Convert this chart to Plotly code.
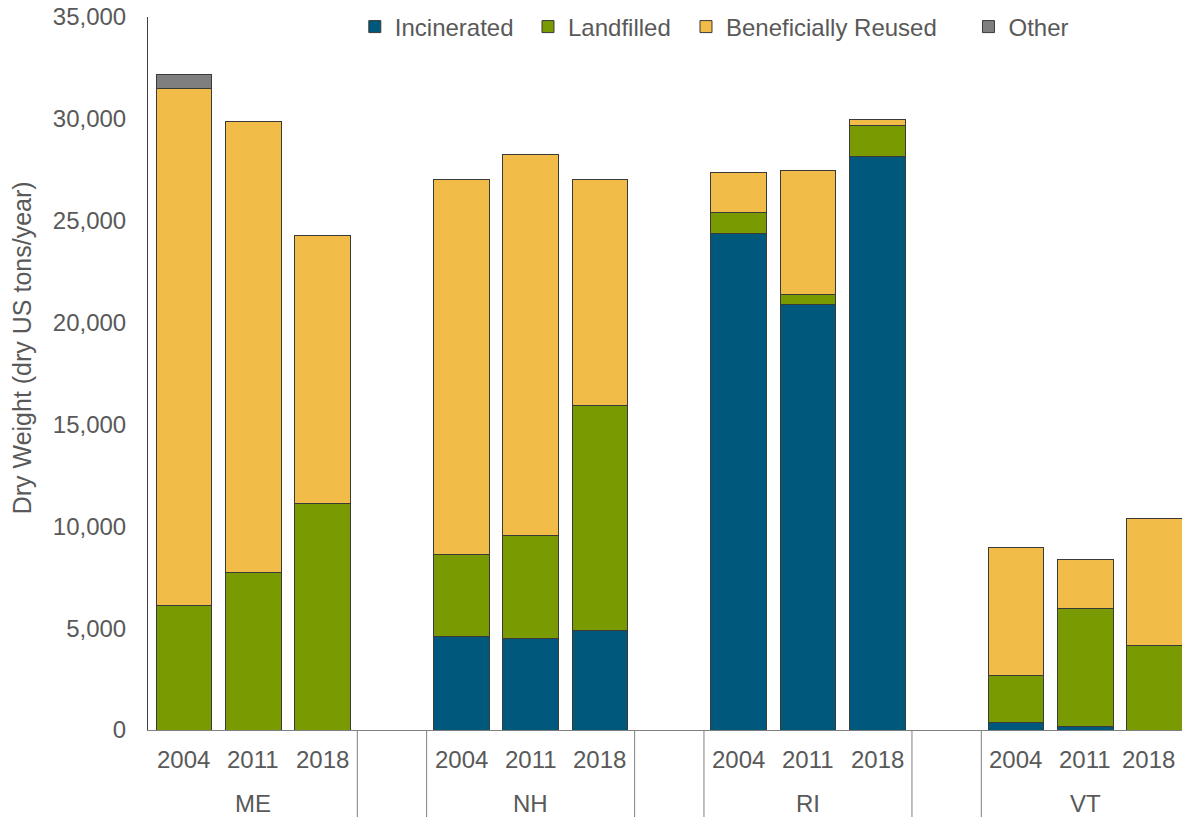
import plotly.graph_objects as go

states = ["ME", "NH", "RI", "VT"]
years = ["2004", "2011", "2018"]

incinerated = {"ME": [0, 0, 0], "NH": [4580, 4500, 4860], "RI": [24350, 20880, 28170], "VT": [360, 160, 0]}
landfilled = {"ME": [6120, 7740, 11100], "NH": [4050, 5070, 11050], "RI": [1070, 520, 1480], "VT": [2320, 5810, 4140]}
reused = {"ME": [25350, 22120, 13170], "NH": [18370, 18680, 11100], "RI": [1960, 6070, 300], "VT": [6270, 2410, 6230]}
other = {"ME": [690, 0, 0], "NH": [0, 0, 0], "RI": [0, 0, 0], "VT": [0, 0, 0]}

series = [
    ("Incinerated", incinerated, "#00587C", "legend", 0.2),
    ("Landfilled", landfilled, "#7A9A01", "legend2", 0.3675),
    ("Beneficially Reused", reused, "#F1BC47", "legend3", 0.5203),
    ("Other", other, "#7F7F7F", "legend4", 0.7935),
]

# slot positions: 3 years per state followed by one blank slot
xpos = {}
for si, st in enumerate(states):
    xpos[st] = [si * 4 + k for k in range(3)]

FONT = "Liberation Sans, Arial, sans-serif"
GREY = "#595959"

fig = go.Figure()
legends = {}
for name, data, color, lg, lx in series:
    xs, ys = [], []
    for st in states:
        xs += xpos[st]
        ys += data[st]
    fig.add_trace(go.Bar(
        x=xs, y=ys, name=name, width=0.8, legend=lg,
        marker=dict(color=color, line=dict(color="#3A3A3A", width=1)),
    ))
    legends[lg] = dict(orientation="h", x=lx, y=0.986, xanchor="left", yanchor="middle",
                       font=dict(family=FONT, size=24, color=GREY),
                       itemwidth=30, bgcolor="rgba(0,0,0,0)")

# year labels and state labels
for si, st in enumerate(states):
    for k, yr in enumerate(years):
        shift = -6 if (si == len(states) - 1 and k == len(years) - 1) else 0
        fig.add_annotation(x=xpos[st][k], y=-0.042, xref="x", yref="paper", text=yr,
                           showarrow=False, font=dict(family=FONT, size=24, color=GREY),
                           yanchor="middle", xshift=shift)
    fig.add_annotation(x=xpos[st][1], y=-0.1024, xref="x", yref="paper", text=st,
                       showarrow=False, font=dict(family=FONT, size=24, color=GREY),
                       yanchor="middle")

# y-axis title
fig.add_annotation(x=-0.1215, y=0.5358, xref="paper", yref="paper",
                   text="Dry Weight (dry US tons/year)", textangle=-90, showarrow=False,
                   xanchor="center", yanchor="middle",
                   font=dict(family=FONT, size=25, color=GREY))

# group separator lines
for b in [2.5, 3.5, 6.5, 7.5, 10.5, 11.5]:
    fig.add_shape(type="line", xref="x", yref="paper", x0=b, x1=b, y0=0, y1=-0.13,
                  line=dict(color="#7F7F7F", width=1))

fig.update_layout(
    width=1182, height=817,
    margin=dict(l=148, r=0, t=17, b=87, autoexpand=False),
    barmode="stack",
    plot_bgcolor="white", paper_bgcolor="white",
    font=dict(family=FONT, size=24, color=GREY),
    showlegend=True,
    xaxis=dict(range=[-0.519, 14.395], showticklabels=False, showgrid=False, zeroline=False,
               showline=True, linecolor="#7F7F7F", linewidth=1, ticks=""),
    yaxis=dict(range=[0, 35000], dtick=5000, tickformat=",", showgrid=False, zeroline=False,
               showline=True, linecolor="#404040", linewidth=1, ticks="",
               ticklabelstandoff=16, ticklabeloverflow="allow",
               tickfont=dict(family=FONT, size=24, color=GREY)),
    **legends,
)

fig.write_html("out.html", config={"displayModeBar": False},
               post_script="document.body.style.margin='0';document.body.style.overflow='hidden';")
